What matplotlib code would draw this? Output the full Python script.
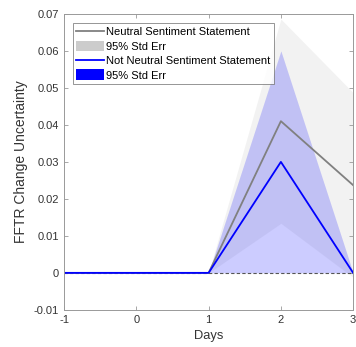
import matplotlib
matplotlib.use('Agg')
import matplotlib.pyplot as plt
from matplotlib.patches import Patch
from matplotlib.lines import Line2D

plt.rcParams['font.family'] = ['Liberation Sans', 'DejaVu Sans']
plt.rcParams['axes.unicode_minus'] = False

days = [-1, 0, 1, 2, 3]
neutral = [0, 0, 0, 0.0410, 0.0237]
neutral_lo = [0, 0, 0, 0.0134, -0.0012]
neutral_hi = [0, 0, 0, 0.0686, 0.0487]
not_neutral = [0, 0, 0, 0.0300, 0]
not_neutral_lo = [0, 0, 0, 0.0, 0]
not_neutral_hi = [0, 0, 0, 0.0600, 0]

fig = plt.figure(figsize=(3.56, 3.47), dpi=100)
ax = fig.add_axes([0.180, 0.107, 0.812, 0.853])

ax.fill_between(days, neutral_lo, neutral_hi, color='#cccccc', alpha=0.25, lw=0)
ax.fill_between(days, not_neutral_lo, not_neutral_hi, color='blue', alpha=0.2, lw=0)
ax.plot([-1, 3], [0, 0], color='#555555', ls='--', lw=0.8, dashes=(3, 2))
ax.plot(days, neutral, color='#808080', lw=1.3)
ax.plot(days, not_neutral, color='blue', lw=1.3)

ax.set_xlim(-1, 3)
ax.set_ylim(-0.01, 0.07)
ax.set_xticks([-1, 0, 1, 2, 3])
ax.set_yticks([-0.01, 0, 0.01, 0.02, 0.03, 0.04, 0.05, 0.06, 0.07])
ax.set_yticklabels(['-0.01', '0', '0.01', '0.02', '0.03', '0.04', '0.05', '0.06', '0.07'])
ax.tick_params(direction='in', length=3, width=0.6, colors='#999999',
               labelcolor='#333333', labelsize=8, top=True, right=True)
ax.tick_params(axis='x', pad=4)
for s in ax.spines.values():
    s.set_color('#999999')
    s.set_linewidth(0.7)

ax.set_xlabel('Days', fontsize=9.3, color='#333333', labelpad=3)
ax.set_ylabel('FFTR Change Uncertainty', fontsize=10, color='#333333', labelpad=4)

handles = [
    Line2D([], [], color='#808080', lw=1.3),
    Patch(facecolor='#cccccc', edgecolor='none'),
    Line2D([], [], color='blue', lw=1.3),
    Patch(facecolor='blue', edgecolor='none'),
]
labels = ['Neutral Sentiment Statement', '95% Std Err',
          'Not Neutral Sentiment Statement', '95% Std Err']
leg = ax.legend(handles, labels, loc='upper left', fontsize=8,
                frameon=True, fancybox=False, handlelength=2.5,
                handleheight=1.1, handletextpad=0.2, labelspacing=0.3,
                borderpad=0.3, borderaxespad=0.8)
leg.get_frame().set_edgecolor('#666666')
leg.get_frame().set_linewidth(0.6)

fig.savefig('out.png', dpi=100)
